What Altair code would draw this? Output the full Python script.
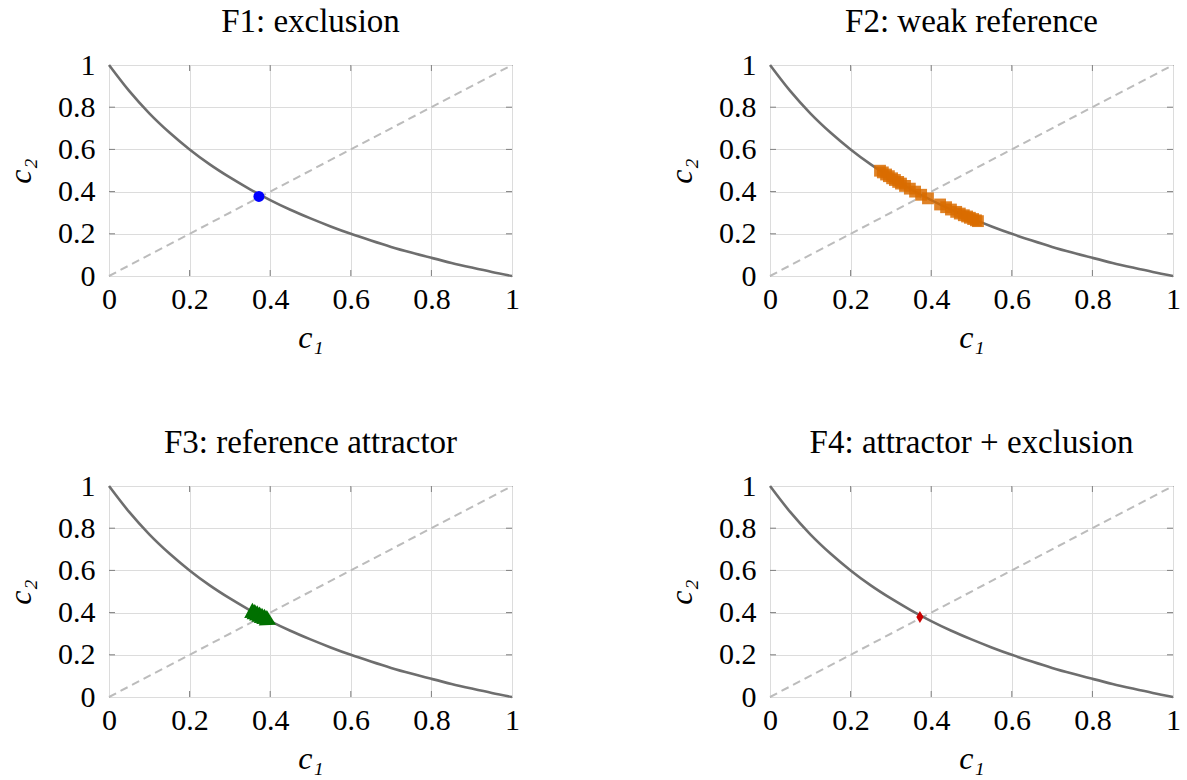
import altair as alt
import pandas as pd

# ---- data ----
CURVE_C1 = [0, 0.05, 0.1, 0.15, 0.2, 0.25, 0.3, 0.35, 0.4, 0.45, 0.5, 0.55, 0.6,
            0.65, 0.7, 0.75, 0.8, 0.85, 0.9, 0.95, 1.0]
CURVE_C2 = [1.0, 0.877, 0.771, 0.68, 0.6, 0.529, 0.467, 0.411, 0.36, 0.314, 0.273,
            0.235, 0.2, 0.168, 0.138, 0.111, 0.086, 0.062, 0.04, 0.019, 0.0]
DIAG = [0.0, 1.0]
TICKS = [0, 0.2, 0.4, 0.6, 0.8, 1]
INNER_TICKS = [0.2, 0.4, 0.6, 0.8]

TITLES = ["F1: exclusion", "F2: weak reference", "F3: reference attractor",
          "F4: attractor + exclusion"]

F1_C1 = [0.372]
F1_C2 = [0.377]

F2_C1 = [0.273, 0.280, 0.288, 0.295, 0.303, 0.310, 0.318, 0.325, 0.335, 0.347,
         0.360, 0.375, 0.392, 0.422, 0.437, 0.449, 0.462, 0.471, 0.481, 0.489,
         0.496, 0.504, 0.511, 0.516]
F2_C2 = [0.499, 0.491, 0.481, 0.473, 0.463, 0.455, 0.446, 0.438, 0.427, 0.414,
         0.400, 0.385, 0.368, 0.339, 0.326, 0.315, 0.304, 0.296, 0.288, 0.282,
         0.276, 0.270, 0.264, 0.260]

F3_C1 = [0.362, 0.368, 0.374, 0.380, 0.386, 0.392, 0.398]
F3_C2 = [0.394, 0.388, 0.382, 0.376, 0.370, 0.365, 0.359]

F4_C1 = [0.372]
F4_C2 = [0.379]

FONT = "Liberation Serif"
W, H = 403, 211
TLX = 6.0 / W   # inward tick length in x data units
TLY = 6.0 / H   # inward tick length in y data units

curve_df = pd.DataFrame({"c1": CURVE_C1, "c2": CURVE_C2})
diag_df = pd.DataFrame({"c1": DIAG, "c2": DIAG})
tick_df = pd.DataFrame({"t": INNER_TICKS})

xscale = alt.Scale(domain=[0, 1], nice=False, zero=False)
yscale = alt.Scale(domain=[0, 1], nice=False, zero=False)

axis_style = dict(
    labelFont=FONT, labelFontSize=30, labelColor="black",
    titleFont=FONT, titleFontSize=32, titleFontStyle="italic",
    titleFontWeight="normal", titleColor="black",
    gridColor="#dcdcdc", gridWidth=1,
    values=TICKS, format="~g", grid=True, ticks=False, tickSize=0,
    domain=False, labelFlush=False, labelOverlap=False,
)
xaxis = alt.Axis(title="c₁", labelPadding=8, titlePadding=8, **axis_style)
yaxis = alt.Axis(title="c₂", labelPadding=14, titlePadding=20, **axis_style)


def panel(title, marker):
    curve = alt.Chart(curve_df).mark_line(
        color="#6e6e6e", strokeWidth=2.6, interpolate="monotone"
    ).encode(
        x=alt.X("c1:Q", scale=xscale, axis=xaxis),
        y=alt.Y("c2:Q", scale=yscale, axis=yaxis),
    )
    diag = alt.Chart(diag_df).mark_line(
        color="#bcbcbc", strokeWidth=2, strokeDash=[8, 5]
    ).encode(x="c1:Q", y="c2:Q")
    tb = alt.Chart(tick_df).mark_rule(color="#808080", strokeWidth=1).encode(
        x="t:Q", y=alt.datum(0), y2=alt.datum(TLY))
    tt = alt.Chart(tick_df).mark_rule(color="#808080", strokeWidth=1).encode(
        x="t:Q", y=alt.datum(1), y2=alt.datum(1 - TLY))
    tl = alt.Chart(tick_df).mark_rule(color="#808080", strokeWidth=1).encode(
        y="t:Q", x=alt.datum(0), x2=alt.datum(TLX))
    tr = alt.Chart(tick_df).mark_rule(color="#808080", strokeWidth=1).encode(
        y="t:Q", x=alt.datum(1), x2=alt.datum(1 - TLX))
    return alt.layer(diag, curve, tb, tt, tl, tr, marker).properties(
        width=W, height=H,
        title=alt.TitleParams(title, font=FONT, fontSize=33, fontWeight="normal",
                              color="black", anchor="middle", offset=11),
    )


m1 = alt.Chart(pd.DataFrame({"c1": F1_C1, "c2": F1_C2})).mark_point(
    shape="circle", filled=True, size=120, color="#0000ff", opacity=1
).encode(x="c1:Q", y="c2:Q")

m2 = alt.Chart(pd.DataFrame({"c1": F2_C1, "c2": F2_C2})).mark_point(
    shape="square", filled=True, size=140, color="#d96c00", opacity=0.85
).encode(x="c1:Q", y="c2:Q")

m3 = alt.Chart(pd.DataFrame({"c1": F3_C1, "c2": F3_C2})).mark_point(
    shape="triangle-right", filled=True, size=300, color="#007000", opacity=1,
    angle=28
).encode(x="c1:Q", y="c2:Q")

m4 = alt.Chart(pd.DataFrame({"c1": F4_C1, "c2": F4_C2})).mark_point(
    shape="M0,-1L0.6,0L0,1L-0.6,0Z", filled=True, size=144, color="#cc0000",
    opacity=1
).encode(x="c1:Q", y="c2:Q")

chart = alt.concat(
    panel(TITLES[0], m1), panel(TITLES[1], m2),
    panel(TITLES[2], m3), panel(TITLES[3], m4),
    columns=2, spacing={"row": 210, "column": 258}, bounds="flush",
).properties(
    padding={"left": 4, "top": 5, "right": 5, "bottom": 5},
    background="white",
).configure_view(
    stroke="black", strokeWidth=1
)

chart.save("out.html", embed_options={"renderer": "svg", "actions": False})
